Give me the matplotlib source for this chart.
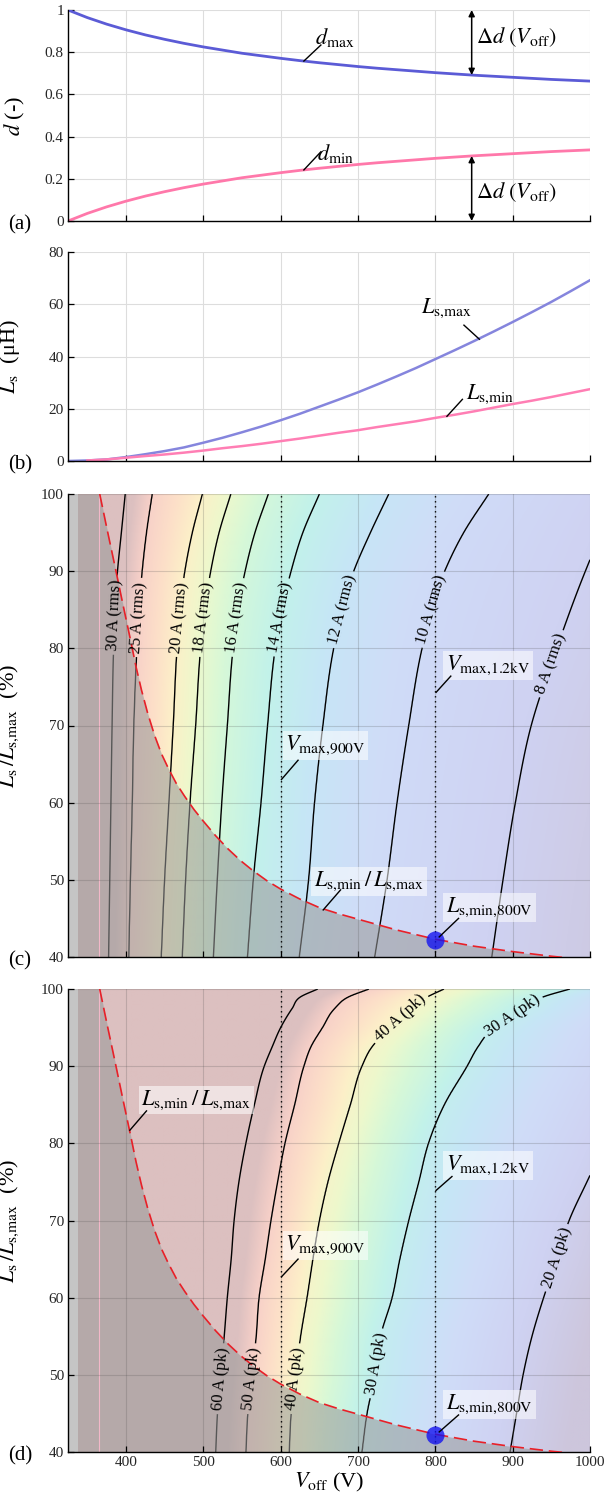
import numpy as np
import matplotlib
matplotlib.use('Agg')
import matplotlib.pyplot as plt
from matplotlib import colors as mcolors

plt.rcParams['font.family'] = ['Liberation Serif', 'DejaVu Serif']
plt.rcParams['mathtext.fontset'] = 'stix'

# ---------------- data ----------------
V = [325, 350, 375, 400, 425, 450, 475, 500, 525, 550, 575, 600, 625, 650,
     675, 700, 725, 750, 775, 800, 825, 850, 875, 900, 925, 950, 975, 1000]
d_max = [1.000, 0.964, 0.933, 0.906, 0.882, 0.861, 0.842, 0.825, 0.810, 0.795,
         0.783, 0.771, 0.760, 0.750, 0.741, 0.732, 0.724, 0.717, 0.710, 0.703,
         0.697, 0.691, 0.686, 0.681, 0.676, 0.671, 0.667, 0.663]
d_min = [0.000, 0.036, 0.067, 0.094, 0.118, 0.139, 0.158, 0.175, 0.190, 0.205,
         0.217, 0.229, 0.240, 0.250, 0.259, 0.268, 0.276, 0.283, 0.290, 0.297,
         0.303, 0.309, 0.314, 0.319, 0.324, 0.329, 0.333, 0.337]
Ls_max = [0.0, 0.2, 0.6, 1.5, 2.6, 3.8, 5.2, 7.0, 8.9, 11.0, 13.2, 15.6, 18.1,
          20.8, 23.5, 26.3, 29.3, 32.4, 35.6, 39.0, 42.4, 45.9, 49.5, 53.2,
          57.0, 60.9, 65.0, 69.2]
V_lsmin = V[1:]
Ls_min = [0.2, 0.6, 1.25, 1.9, 2.5, 3.2, 4.0, 4.9, 5.7, 6.6, 7.6, 8.6, 9.7,
          10.8, 11.8, 13.0, 14.1, 15.2, 16.5, 17.7, 19.0, 20.4, 21.8, 23.1,
          24.5, 26.0, 27.5]

V_ratio = [325, 366, 376, 386, 396, 406, 413, 420, 428, 437, 446, 455, 465, 476,
           488, 500, 516, 532, 548, 564, 582, 600, 625, 650, 675, 700, 750, 800,
           850, 900, 950, 1000]
ratio = [100, 100, 95.2, 90.5, 85.7, 81.0, 77.6, 74.6, 71.6, 68.7, 66.3, 64.4,
         62.5, 60.8, 59.1, 57.6, 55.7, 54.0, 52.5, 51.2, 49.9, 48.8, 47.5, 46.4,
         45.6, 44.9, 43.5, 42.3, 41.4, 40.7, 40.1, 39.6]

# panel (c): rms current contours, V crossing of each level at each ratio row
rows_c = [40, 50, 60, 70, 80, 90, 95, 100]
levels_c = [30, 25, 20, 18, 16, 14, 12, 10, 8]
cross_c = [
    [377.5, 379, 380.5, 382, 384, 389, 394, 399],
    [403.5, 405.6, 408, 410, 414, 420.8, 426.4, 433.8],
    [445.5, 449.8, 455.4, 461, 466, 476, 485.7, 498.7],
    [472.7, 477, 482.7, 490, 496.5, 509.5, 520.3, 535.5],
    [513, 518, 523.8, 531, 538.5, 554, 566.7, 584],
    [557, 564.5, 574.5, 583, 593, 613.4, 628.6, 650],
    [624, 636, 643.7, 654.5, 668.5, 694.4, 716, 739.7],
    [721.5, 737.5, 750.4, 765.5, 782.8, 812, 836.6, 869],
    [873, 887.5, 903.5, 924, 957, 994, 1015, 1040],
]
# panel (d): peak current contours
rows_d = [40, 45, 50, 55, 60, 65, 70, 75, 80, 85, 90, 92.5, 95, 97.5, 99, 100]
levels_d = [60, 50, 40, 30, 20]
cross_d = [
    [516, 518.3, 522.5, 527, 531, 536, 539.8, 546, 555, 566, 578.8, 589, 600, 615, 626, 648],
    [555, 557.5, 563, 568.3, 572, 580, 587.4, 596, 605.5, 618, 630, 639, 654, 670, 688, 714],
    [611, 613.5, 619.5, 625.7, 634, 641.6, 650, 661, 675, 690, 705, 718, 742, 768, 790, 811],
    [705, 711.6, 722, 729, 744, 754, 765.5, 778.5, 791, 811.5, 841, 855, 875, 915, 940, 974],
    [896.6, 905, 913.5, 925, 940, 957, 973, 996, 1020, 1045, 1070, 1082, 1095, 1110, 1118, 1125],
]
V_limits = [600, 800]
V_point, ratio_point = 800, 42.2

# pale rainbow used for the current maps (position, colour)
cmap_stops = [(0.00, '#cdc6dc'), (0.12, '#cfd2f2'), (0.22, '#d0dcf8'),
              (0.30, '#c6e6f6'), (0.38, '#c2f2ea'), (0.48, '#d6f8d8'),
              (0.56, '#eef8cc'), (0.64, '#fcf0c8'), (0.74, '#fde0c8'),
              (0.86, '#f7d0c8'), (1.00, '#dcc0c0')]

# ---------------- helpers ----------------
def hermite(xq, x, y):
    x = np.asarray(x, float)
    y = np.asarray(y, float)
    m = np.gradient(y, x)
    i = np.clip(np.searchsorted(x, xq) - 1, 0, len(x) - 2)
    h = x[i + 1] - x[i]
    t = (xq - x[i]) / h
    return ((2 * t**3 - 3 * t**2 + 1) * y[i] + (t**3 - 2 * t**2 + t) * h * m[i]
            + (-2 * t**3 + 3 * t**2) * y[i + 1] + (t**3 - t**2) * h * m[i + 1])

def build_field(Vg, rg, rows, levels, cross):
    C = np.array([hermite(rg, rows, c) for c in cross])
    lv = np.array(levels, float)
    F = np.empty((len(rg), len(Vg)))
    for i in range(len(rg)):
        x = C[:, i]
        o = np.argsort(x)
        x, y = x[o], lv[o]
        s0 = (y[1] - y[0]) / (x[1] - x[0])
        s1 = (y[-1] - y[-2]) / (x[-1] - x[-2])
        xe = np.concatenate([[x[0] - 1000], x, [x[-1] + 1000]])
        ye = np.concatenate([[y[0] - 1000 * s0], y, [y[-1] + 1000 * s1]])
        F[i] = np.interp(Vg, xe, ye)
    return F

W, H = 605, 1503
fig = plt.figure(figsize=(W / 100, H / 100), dpi=100)
left, width = 68 / W, 522 / W
def axbox(top, bot):
    return [left, 1 - bot / H, width, (bot - top) / H]

axa = fig.add_axes(axbox(10, 221))
axb = fig.add_axes(axbox(252, 461))
axc = fig.add_axes(axbox(494, 957))
axd = fig.add_axes(axbox(989, 1452))

tick_col = '#262626'
for ax in (axa, axb, axc, axd):
    ax.set_xlim(325, 1000)
    ax.set_xticks([400, 500, 600, 700, 800, 900, 1000])
    for s in ('top', 'right'):
        ax.spines[s].set_visible(False)
    for s in ('left', 'bottom'):
        ax.spines[s].set_linewidth(1.0)
    ax.tick_params(direction='in', length=4, width=0.9, labelsize=11,
                   labelcolor=tick_col, pad=3)
for ax in (axa, axb, axc):
    ax.set_xticklabels([])

# ---------------- (a) ----------------
axa.grid(True, color='#dddddd', lw=0.8)
axa.set_axisbelow(True)
axa.plot(V, d_max, color='#5b5bd6', lw=2.0)
axa.plot(V, d_min, color='#ff78aa', lw=2.0)
axa.set_ylim(0, 1)
axa.set_yticks([0, 0.2, 0.4, 0.6, 0.8, 1])
axa.set_yticklabels(['0', '0.2', '0.4', '0.6', '0.8', '1'])
axa.set_ylabel(r'$d$ (-)', fontsize=16)
axa.yaxis.set_label_coords(-0.078, 0.5)
axa.text(645, 0.87, r'$d_{\rm max}$', fontsize=16, va='center', ha='left')
axa.plot([630, 652], [0.758, 0.834], color='k', lw=1)
axa.text(647, 0.318, r'$d_{\rm min}$', fontsize=16, va='center', ha='left')
axa.plot([630, 652], [0.242, 0.328], color='k', lw=1)
xa = 847
dm = np.interp(xa, V, d_max)
dn = np.interp(xa, V, d_min)
axa.annotate('', xy=(xa, 1.0), xytext=(xa, dm),
             arrowprops=dict(arrowstyle='<|-|>', lw=1.1, color='k',
                             mutation_scale=9, shrinkA=0, shrinkB=0))
axa.annotate('', xy=(xa, dn), xytext=(xa, 0.0),
             arrowprops=dict(arrowstyle='<|-|>', lw=1.1, color='k',
                             mutation_scale=9, shrinkA=0, shrinkB=0))
axa.text(853, 0.87, r'$\Delta d\ (V_{\rm off})$', fontsize=16, va='center', ha='left')
axa.text(853, 0.139, r'$\Delta d\ (V_{\rm off})$', fontsize=16, va='center', ha='left')

# ---------------- (b) ----------------
axb.grid(True, color='#dddddd', lw=0.8)
axb.set_axisbelow(True)
axb.plot(V, Ls_max, color='#8585dd', lw=1.8)
axb.plot(V_lsmin, Ls_min, color='#ff7eb4', lw=1.8)
axb.set_ylim(0, 80)
axb.set_yticks([0, 20, 40, 60, 80])
axb.set_ylabel(r'$L_{\rm s}$  ' + '(\u03bcH)', fontsize=16)
axb.yaxis.set_label_coords(-0.088, 0.5)
axb.text(782, 58.4, r'$L_{\rm s{,}max}$', fontsize=16, va='center', ha='left')
axb.plot([857, 837], [46.6, 52.0], color='k', lw=1)
axb.text(840, 25.6, r'$L_{\rm s{,}min}$', fontsize=16, va='center', ha='left')
axb.plot([815, 835], [17.1, 23.6], color='k', lw=1)

# ---------------- (c) and (d) ----------------
Vg = np.linspace(338, 1000, 560)
rg = np.linspace(40, 100, 420)
cmap = mcolors.LinearSegmentedColormap.from_list('pale', cmap_stops)
box = dict(boxstyle='square,pad=0.12', fc='white', ec='none', alpha=0.55)

def map_panel(ax, rows, levels, cross, vmin, vmax, fmt, manual, notes):
    F = build_field(Vg, rg, rows, levels, cross)
    rgb = cmap(mcolors.Normalize(vmin, vmax, clip=True)(F))[..., :3]
    ax.imshow(rgb, extent=[Vg[0], Vg[-1], rg[0], rg[-1]], origin='lower',
              aspect='auto', interpolation='bilinear', zorder=0.5)
    cs = ax.contour(Vg, rg, F, levels=sorted(levels), colors='k',
                    linewidths=1.0, zorder=1.5)
    ax.clabel(cs, inline=True, inline_spacing=4, fmt=fmt, fontsize=12,
              manual=manual)
    Vr = np.array(V_ratio, float)
    rr = np.minimum(np.array(ratio, float), 100)
    ax.fill_between(Vr, 40, rr, color=(0.6, 0.6, 0.6), alpha=0.57, lw=0,
                    zorder=2)
    ax.axvline(365, color='#f2b8c8', lw=0.8, zorder=2.1)
    ax.plot(V_ratio[1:], ratio[1:], color='#e82028', lw=1.2,
            dashes=(8, 3.5), zorder=2.8)
    for vl in V_limits:
        ax.plot([vl, vl], [40, 100], color='k', lw=1.0,
                linestyle=(0, (1, 2.6)), zorder=2.9)
    ax.plot([V_point], [ratio_point], 'o', ms=13, color='#1010f0', alpha=0.78,
            mec='none', zorder=4)
    ax.set_ylim(40, 100)
    ax.set_yticks([40, 50, 60, 70, 80, 90, 100])
    ax.grid(True, color=(0.3, 0.3, 0.3), alpha=0.22, lw=0.8)
    ax.set_axisbelow(False)
    ax.set_ylabel(r'$L_{\rm s}\,/L_{\rm s{,}max}$  (%)', fontsize=16)
    ax.yaxis.set_label_coords(-0.09, 0.5)
    for (tx, ty, s, x0, y0, x1, y1) in notes:
        ax.text(tx, ty, s, fontsize=16, va='center', ha='left', bbox=box,
                zorder=5)
        ax.plot([x0, x1], [y0, y1], color='k', lw=1, zorder=5.5)

fmt_c = {30: '30 A (rms)', 25: '25 A (rms)', 20: '20 A (rms)', 18: '18 A (rms)',
         16: '16 A (rms)', 14: '14 A (rms)', 12: '12 A (rms)', 10: '10 A (rms)',
         8: '8 A (rms)'}
man_c = [(386, 84.3), (416.7, 84), (470, 84), (501.7, 84), (544.7, 84),
         (601, 84), (681.5, 85), (797.4, 85), (950, 78)]
notes_c = [
    (606, 67.4, r'$V_{\rm max{,}900V}$', 601, 63.0, 622.5, 65.5),
    (814, 77.8, r'$V_{\rm max{,}1.2kV}$', 801, 74.3, 820, 76.4),
    (643, 49.8, r'$L_{\rm s{,}min}\,/\,L_{\rm s{,}max}$', 655, 46.1, 677.5, 48.7),
    (814, 46.4, r'$L_{\rm s{,}min{,}800V}$', 805, 42.6, 830, 45.0),
]
map_panel(axc, rows_c, levels_c, cross_c, 5.3, 28.5, fmt_c, man_c, notes_c)

fmt_d = {60: '60 A (pk)', 50: '50 A (pk)', 40: '40 A (pk)', 30: '30 A (pk)',
         20: '20 A (pk)'}
man_d = [(522, 49.5), (562.5, 49.5), (619, 49.5), (755, 96.2), (900, 96.5),
         (723, 51.5), (962, 65)]
notes_d = [
    (420, 85.6, r'$L_{\rm s{,}min}\,/\,L_{\rm s{,}max}$', 405, 81.7, 426.5, 84.2),
    (814, 77.1, r'$V_{\rm max{,}1.2kV}$', 801, 73.9, 821.5, 75.7),
    (606, 66.8, r'$V_{\rm max{,}900V}$', 601, 62.7, 622.5, 65.0),
    (814, 46.2, r'$L_{\rm s{,}min{,}800V}$', 805, 42.6, 830, 44.8),
]
map_panel(axd, rows_d, levels_d, cross_d, 16, 56, fmt_d, man_d, notes_d)
axd.set_xlabel(r'$V_{\rm off}$ (V)', fontsize=16, labelpad=1)

# panel letters
for lab, ybot in (('(a)', 221), ('(b)', 461), ('(c)', 957), ('(d)', 1452)):
    fig.text(20 / W, 1 - (ybot + 4) / H, lab, fontsize=15, ha='center',
             va='center')

fig.savefig('out.png', dpi=100)
